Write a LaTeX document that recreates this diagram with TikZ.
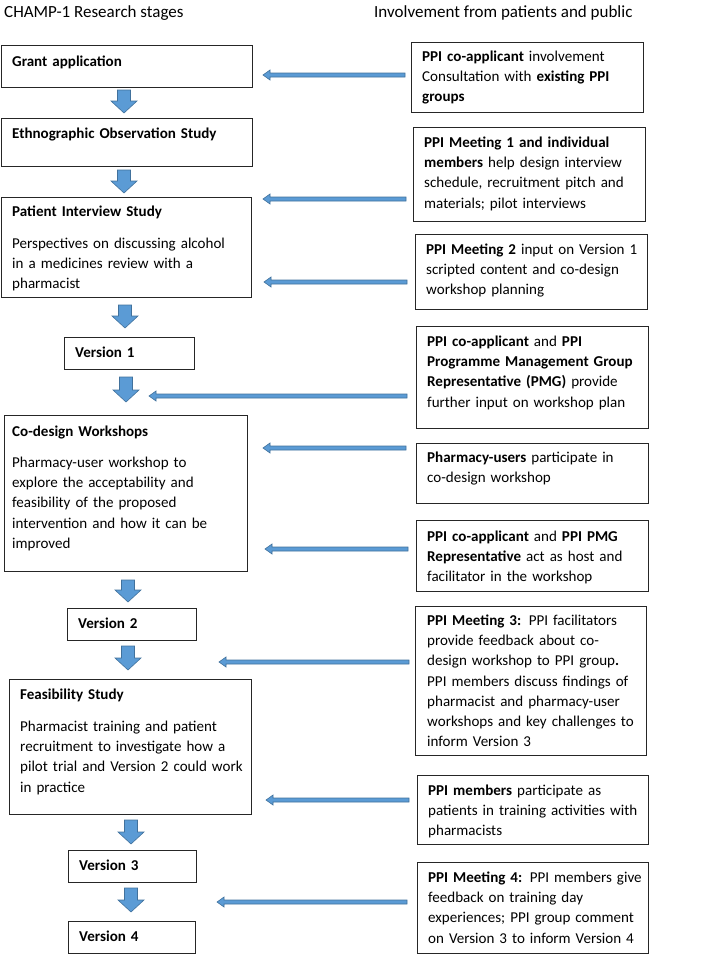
\documentclass[tikz,border=0pt]{standalone}
\usepackage{fontspec}
\setmainfont{Carlito}
\usetikzlibrary{calc}
\definecolor{arrfill}{RGB}{91,155,213}
\definecolor{arrline}{RGB}{65,113,156}
\newcommand\harr[3]{\filldraw[barrow] (#1,#3-2) -- (#2+7,#3-2) -- (#2+7,#3-5) -- (#2,#3) -- (#2+7,#3+5) -- (#2+7,#3+2) -- (#1,#3+2) -- cycle;}
\newcommand\varr[3]{\filldraw[barrow] (#1-6.5,#2) -- (#1+6.5,#2) -- (#1+6.5,#3-12) -- (#1+13,#3-12) -- (#1,#3) -- (#1-13,#3-12) -- (#1-6.5,#3-12) -- cycle;}
\begin{document}
\begin{tikzpicture}[x=1pt,y=-1pt,
  box/.style={draw=black!85, line width=1.1pt, anchor=north west, inner sep=0pt},
  txt/.style={anchor=base west, inner sep=0pt, text width=300pt, align=left,
    font=\fontsize{15.05}{20.2}\selectfont},
  hdr/.style={anchor=base west, inner sep=0pt, font=\fontsize{17}{20}\selectfont},
  barrow/.style={fill=arrfill, draw=arrline, line width=0.6pt, line join=miter}]
\useasboundingbox (0,0) rectangle (709,954);
\newcommand\bx[5]{\node[box, minimum width=#3-#1, minimum height=#4-#2] (#5) at (#1,#2) {};}
% headers
\node[hdr] (h1) at (4,17.5) {CHAMP-1 Research stages};
\node[hdr] (h2) at (374,17.5) {Involvement from patients and public};
% left boxes
\bx{1}{45}{252}{87}{L1}
\node[txt] (L1t) at (12,66.5) {\textbf{Grant application}};
\bx{1}{118}{252}{166}{L2}
\node[txt] (L2t) at (12,138.5) {\textbf{Ethnographic Observation Study}};
\bx{1}{197}{251}{297}{L3}
\node[txt] (L3t) at (12,216.5) {\textbf{Patient Interview Study}};
\node[txt] (L3b) at (12,248.5) {Perspectives on discussing alcohol\\ in a medicines review with a\\ pharmacist};
\bx{64}{337}{194}{369}{L4}
\node[txt] (L4t) at (75,357.5) {\textbf{Version 1}};
\bx{4}{415}{247}{571}{L5}
\node[txt] (L5t) at (12,436) {\textbf{Co-design Workshops}};
\node[txt] (L5b) at (12,467.5) {Pharmacy-user workshop to\\ explore the acceptability and\\ feasibility of the proposed\\ intervention and how it can be\\ improved};
\bx{67}{608}{196}{640}{L6}
\node[txt] (L6t) at (78,628.5) {\textbf{Version 2}};
\bx{9}{679}{251}{814}{L7}
\node[txt] (L7t) at (20,699.5) {\textbf{Feasibility Study}};
\node[txt] (L7b) at (20,731.5) {Pharmacist training and patient\\ recruitment to investigate how a\\ pilot trial and Version 2 could work\\ in practice};
\bx{68}{850}{196}{882}{L8}
\node[txt] (L8t) at (79,870.5) {\textbf{Version 3}};
\bx{68}{921}{195}{953}{L9}
\node[txt] (L9t) at (79,941.5) {\textbf{Version 4}};
% right boxes
\bx{411}{42}{643}{112}{R1}
\node[txt] (R1t) at (422,61.5) {\textbf{PPI co-applicant} involvement\\ Consultation with \textbf{existing PPI}\\ \textbf{groups}};
\bx{413}{127}{645}{221}{R2}
\node[txt] (R2t) at (424,147.5) {\textbf{PPI Meeting 1 and individual}\\ \textbf{members} help design interview\\ schedule, recruitment pitch and\\ materials; pilot interviews};
\bx{415}{234}{647}{309}{R3}
\node[txt] (R3t) at (426,254.5) {\textbf{PPI Meeting 2} input on Version 1\\ scripted content and co-design\\ workshop planning};
\bx{416}{326}{648}{428}{R4}
\node[txt] (R4t) at (427,346.5) {\textbf{PPI co-applicant} and \textbf{PPI}\\ \textbf{Programme Management Group}\\ \textbf{Representative (PMG)} provide\\ further input on workshop plan};
\bx{416}{443}{648}{503}{R5}
\node[txt] (R5t) at (427,462.5) {\textbf{Pharmacy-users} participate in\\ co-design workshop};
\bx{416}{520}{648}{591}{R6}
\node[txt] (R6t) at (427,541.5) {\textbf{PPI co-applicant} and \textbf{PPI PMG}\\ \textbf{Representative} act as host and\\ facilitator in the workshop};
\bx{415}{606}{646}{755}{R7}
\node[txt] (R7t) at (427,625.5) {\textbf{PPI Meeting 3:} PPI facilitators\\ provide feedback about co-\\ design workshop to PPI group\textbf{.}\\ PPI members discuss findings of\\ pharmacist and pharmacy-user\\ workshops and key challenges to\\ inform Version 3};
\bx{417}{775}{648}{844}{R8}
\node[txt] (R8t) at (428,795.5) {\textbf{PPI members} participate as\\ patients in training activities with\\ pharmacists};
\bx{417}{862}{648}{953}{R9}
\node[txt] (R9t) at (428,882.5) {\textbf{PPI Meeting 4:} PPI members give\\ feedback on training day\\ experiences; PPI group comment\\ on Version 3 to inform Version 4};
% down arrows
\varr{124}{90}{113}
\varr{124}{170}{193}
\varr{125}{305}{328}
\varr{126}{377}{402}
\varr{128}{580}{602}
\varr{128}{646}{670}
\varr{131}{820}{844}
\varr{131}{888}{912}
% horizontal arrows
\harr{405}{263}{75}
\harr{406}{263}{199}
\harr{407}{264}{282}
\harr{407}{149}{396}
\harr{406}{263}{448}
\harr{408}{265}{549}
\harr{409}{219}{662}
\harr{409}{266}{800}
\harr{407}{217}{902}
\end{tikzpicture}
\end{document}
